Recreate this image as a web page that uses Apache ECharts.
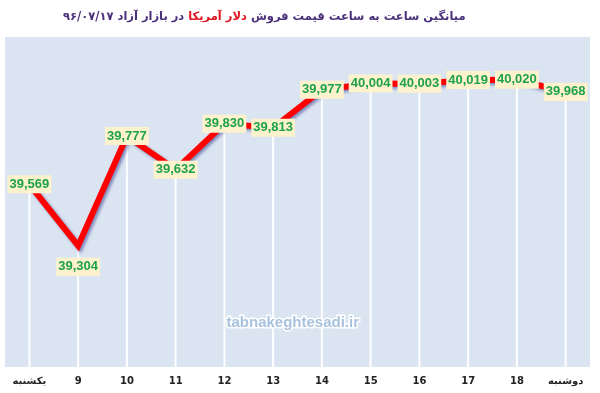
<!DOCTYPE html>
<html>
<head>
<meta charset="utf-8">
<script src="https://cdn.jsdelivr.net/npm/echarts@6/dist/echarts.min.js"></script>
<style>
html,body{margin:0;padding:0;background:#fff;}
#c{width:600px;height:393px;}
</style>
</head>
<body>
<div id="c"></div>
<script>
const categories = ['یکشنبه','9','10','11','12','13','14','15','16','17','18','دوشنبه'];
const prices = [39569,39304,39777,39632,39830,39813,39977,40004,40003,40019,40020,39968];
const titleLeft = 'در بازار آزاد ۹۶/۰۷/۱۷';
const titleRed = 'دلار آمریکا';
const titleRight = 'میانگین ساعت به ساعت قیمت فروش';
const watermark = 'tabnakeghtesadi.ir';

const chart = echarts.init(document.getElementById('c'), null, {renderer:'canvas'});
const fmt = v => Number(v).toLocaleString('en-US');

chart.setOption({
  animation: false,
  backgroundColor: '#ffffff',
  title: {
    text: '{a|' + titleLeft + '}{b|' + titleRed + '}{a|' + titleRight + '}',
    left: 58, top: 6,
    textStyle: {
      rich: {
        a: {fontFamily: 'DejaVu Sans', fontWeight: 'bold', fontSize: 11.5, color: '#4a2f7a'},
        b: {fontFamily: 'DejaVu Sans', fontWeight: 'bold', fontSize: 11.5, color: '#e0141e', padding: [0,4]}
      }
    }
  },
  grid: {left: 5, right: 10, top: 37, bottom: 26, show: true, backgroundColor: '#dbe4f1', borderWidth: 0},
  xAxis: {
    type: 'category', data: categories, boundaryGap: true,
    axisLine: {show: false}, axisTick: {show: false}, splitLine: {show: false},
    axisLabel: {fontFamily: 'DejaVu Sans', fontWeight: 'bold', fontSize: 10, color: '#222', margin: 9}
  },
  yAxis: {type: 'value', min: 38780, max: 40205, show: false, splitLine: {show: false}},
  graphic: [{
    type: 'text', left: 225, top: 314, z: 2,
    style: {text: watermark, fontFamily: 'Liberation Sans', fontWeight: 'bold', fontSize: 15,
      fill: '#a9c2de', stroke: '#ffffff', lineWidth: 3}
  }],
  series: [
    {
      type: 'bar', data: prices, barWidth: 2, silent: true, z: 1,
      itemStyle: {color: 'rgba(255,255,255,0.95)'}
    },
    {
      type: 'line', data: prices.map((v,i) => i === 1 ? {value: v, label: {offset: [0, 21]}} : v),
      z: 3, symbol: 'circle', symbolSize: 2, itemStyle: {color: '#ff0000'},
      lineStyle: {color: '#ff0000', width: 6, join: 'miter',
        shadowColor: 'rgba(50,60,140,0.55)', shadowBlur: 3, shadowOffsetX: 2, shadowOffsetY: 2},
      label: {
        show: true, position: 'inside', formatter: p => fmt(p.value),
        fontFamily: 'Liberation Sans', fontWeight: 'bold', fontSize: 13, color: '#1ea14b',
        backgroundColor: '#fdf2cd', padding: [3, 2, 2, 2]
      }
    }
  ]
});
</script>
</body>
</html>
